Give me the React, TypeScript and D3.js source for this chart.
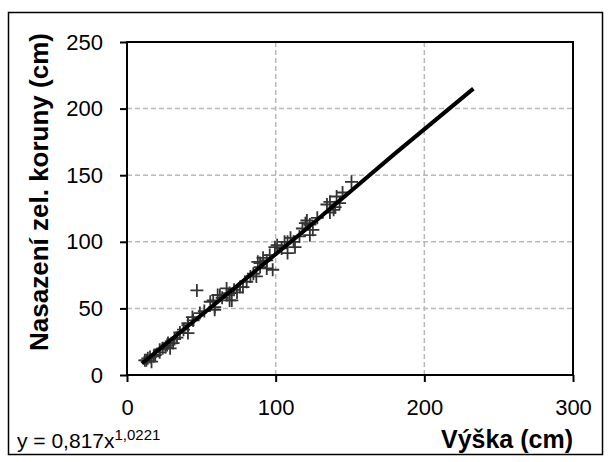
import React, { useEffect, useRef } from "react";
import * as d3 from "d3";

// measured points: height (cm) vs crown base (cm)
const vyska = [12, 13, 14, 15.5, 16.5, 18, 19, 22, 22, 24, 26, 27, 27.6, 29, 31, 32, 33.6, 35.6, 38, 41, 41, 41, 44, 44.5, 47,
  49, 52, 56, 58, 59, 59, 61, 62.5, 64, 67, 67, 69, 69, 70.5, 72, 74, 76, 78, 80.5, 83, 85, 87, 88, 89.5, 89.5, 91.5, 94, 94,
  96, 98, 99.5, 101, 104, 106, 108, 108, 110, 112, 113, 116, 118, 120, 121, 123, 123, 125, 128, 134.5, 136.5, 136.5, 139, 140, 141, 143, 145, 151];
const nasazeni = [11, 11, 12.5, 13.5, 10, 14, 15, 17, 19, 20, 21, 22.5, 24, 20, 24, 27, 28, 32, 34, 37.5, 31.5, 39, 43.5, 41, 63.5,
  46.5, 48, 55, 56, 51, 49, 60, 60, 58, 60, 65, 61.5, 56, 56, 64, 62, 66, 66, 70, 74, 76, 74, 85, 84, 81, 88, 86, 80,
  90, 79, 96, 97.5, 95, 100, 100, 91.5, 103, 100, 96, 104, 110, 114, 116, 105, 113, 109, 118, 128, 130, 122, 124, 126, 134, 129, 137, 145];

// trendline y = 0,817x^1,0221 read along its length
const trendX = [10, 60, 120, 180, 233];
const trendY = [8.6, 54, 109, 166, 215];

const xTicks = [0, 100, 200, 300];
const yTicks = [0, 50, 100, 150, 200, 250];

export default function App() {
  const ref = useRef<SVGSVGElement>(null);

  useEffect(() => {
    const svg = d3.select(ref.current);
    svg.selectAll("*").remove();

    const width = 610;
    const height = 462;
    const margin = { top: 42, right: 37, bottom: 87, left: 127 };
    const font = "'Liberation Sans', Arial, sans-serif";

    const x = d3.scaleLinear().domain([0, 300]).range([margin.left, width - margin.right]);
    const y = d3.scaleLinear().domain([0, 250]).range([height - margin.bottom, margin.top]);

    // outer frame
    svg.append("rect")
      .attr("x", 8.5).attr("y", 12.5)
      .attr("width", 594).attr("height", 442)
      .attr("fill", "white").attr("stroke", "black").attr("stroke-width", 1.5);

    // grid
    const grid = svg.append("g");
    grid.selectAll(".gx").data(xTicks.slice(1)).enter().append("line")
      .attr("x1", d => x(d)).attr("x2", d => x(d))
      .attr("y1", y(0)).attr("y2", y(250))
      .attr("stroke", "#b8b8b8").attr("stroke-width", 1.5).attr("stroke-dasharray", "5,3");
    grid.selectAll(".gy").data(yTicks.slice(1)).enter().append("line")
      .attr("x1", x(0)).attr("x2", x(300))
      .attr("y1", d => y(d)).attr("y2", d => y(d))
      .attr("stroke", "#b8b8b8").attr("stroke-width", 1.5).attr("stroke-dasharray", "5,3");

    // plot border
    svg.append("rect")
      .attr("x", x(0)).attr("y", y(250))
      .attr("width", x(300) - x(0)).attr("height", y(0) - y(250))
      .attr("fill", "none").attr("stroke", "black").attr("stroke-width", 2);

    // axes
    const xAxis = svg.append("g")
      .attr("transform", `translate(0,${y(0)})`)
      .call(d3.axisBottom(x).tickValues(xTicks).tickSize(7).tickPadding(17));
    xAxis.select(".domain").remove();
    xAxis.selectAll("line").attr("stroke", "black").attr("stroke-width", 2);
    xAxis.selectAll("text").style("font-family", font).style("font-size", "22px").attr("fill", "black");

    const yAxis = svg.append("g")
      .attr("transform", `translate(${x(0)},0)`)
      .call(d3.axisLeft(y).tickValues(yTicks).tickSize(7).tickPadding(17));
    yAxis.select(".domain").remove();
    yAxis.selectAll("line").attr("stroke", "black").attr("stroke-width", 2);
    yAxis.selectAll("text").style("font-family", font).style("font-size", "22px").attr("fill", "black");

    // markers
    const data = vyska.map((v, i) => ({ x: v, y: nasazeni[i] }));
    const s = 6.5;
    svg.append("g").selectAll("path").data(data).enter().append("path")
      .attr("d", d => `M${x(d.x) - s},${y(d.y)}H${x(d.x) + s}M${x(d.x)},${y(d.y) - s}V${y(d.y) + s}`)
      .attr("stroke", "#333").attr("stroke-width", 1.8).attr("fill", "none");

    // trendline
    const line = d3.line<number>().x(d => x(d)).y((d, i) => y(trendY[i]));
    svg.append("path")
      .attr("d", line(trendX))
      .attr("fill", "none").attr("stroke", "black").attr("stroke-width", 4);

    // titles
    svg.append("text")
      .attr("transform", `translate(48,192) rotate(-90)`)
      .attr("text-anchor", "middle")
      .style("font-family", font).style("font-size", "26px").style("font-weight", "bold")
      .text("Nasazení  zel. koruny (cm)");

    svg.append("text")
      .attr("x", x(300)).attr("y", 448)
      .attr("text-anchor", "end")
      .style("font-family", font).style("font-size", "25px").style("font-weight", "bold")
      .text("Výška (cm)");

    const eq = svg.append("text")
      .attr("x", 17).attr("y", 448)
      .style("font-family", font).style("font-size", "21px");
    eq.append("tspan").text("y = 0,817x");
    eq.append("tspan").attr("dy", -8).style("font-size", "15px").text("1,0221");
  }, []);

  return (
    <svg ref={ref} width={610} height={462}
      style={{ position: "absolute", left: 0, top: 0, background: "white" }} />
  );
}
